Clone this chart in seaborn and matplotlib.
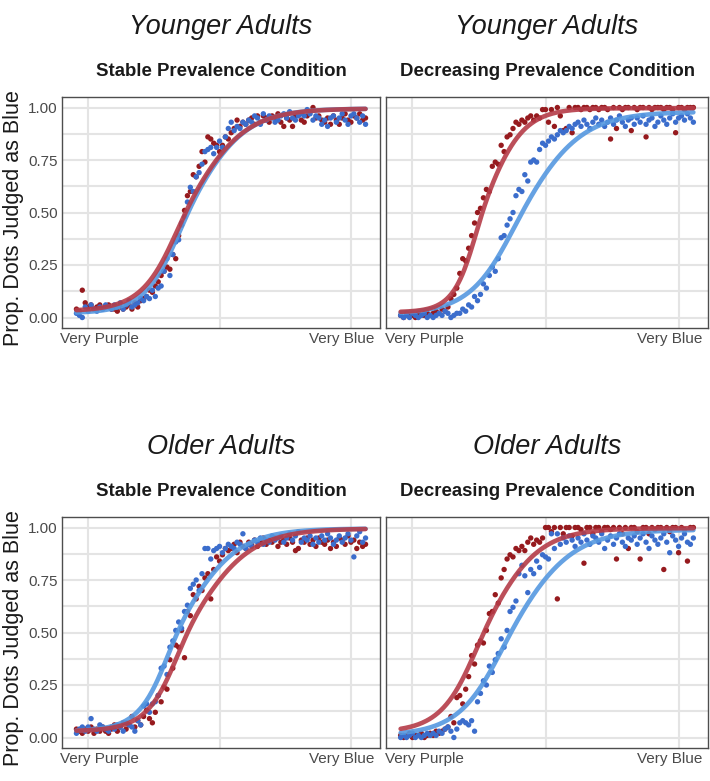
import numpy as np
import pandas as pd
import matplotlib
matplotlib.use("Agg")
import matplotlib.pyplot as plt
import seaborn as sns

# ---------------- data ----------------
stimulus = list(range(1, 101))

ya_stable_red = [0.04, 0.03, 0.13, 0.07, 0.05, 0.06, 0.04, 0.05, 0.06, 0.04,
                 0.05, 0.06, 0.04, 0.04, 0.03, 0.05, 0.04, 0.05, 0.06, 0.04,
                 0.07, 0.05, 0.08, 0.09, 0.10, 0.13, 0.12, 0.15, 0.17, 0.20,
                 0.22, 0.24, 0.23, 0.30, 0.28, 0.39, 0.44, 0.51, 0.58, 0.60,
                 0.68, 0.67, 0.72, 0.79, 0.74, 0.86, 0.85, 0.83, 0.82, 0.79,
                 0.82, 0.86, 0.85, 0.88, 0.90, 0.94, 0.91, 0.93, 0.92, 0.94,
                 0.95, 0.92, 0.96, 0.93, 0.96, 0.95, 0.93, 0.96, 0.95, 0.97,
                 0.93, 0.91, 0.95, 0.94, 0.91, 0.96, 0.97, 0.94, 0.93, 0.96,
                 0.98, 1.00, 0.95, 0.96, 0.94, 0.93, 0.95, 0.92, 0.96, 0.94,
                 0.92, 0.95, 0.97, 0.94, 0.93, 0.96, 0.95, 0.97, 0.94, 0.95]
ya_stable_blue = [0.02, 0.01, 0.00, 0.05, 0.03, 0.06, 0.04, 0.03, 0.05, 0.04,
                  0.06, 0.05, 0.04, 0.06, 0.05, 0.07, 0.04, 0.06, 0.08, 0.05,
                  0.06, 0.07, 0.09, 0.08, 0.10, 0.09, 0.13, 0.10, 0.14, 0.15,
                  0.22, 0.28, 0.20, 0.30, 0.36, 0.37, 0.45, 0.48, 0.55, 0.62,
                  0.60, 0.67, 0.69, 0.73, 0.79, 0.80, 0.81, 0.78, 0.81, 0.84,
                  0.81, 0.86, 0.90, 0.93, 0.89, 0.91, 0.90, 0.93, 0.92, 0.94,
                  0.93, 0.96, 0.95, 0.92, 0.97, 0.94, 0.96, 0.95, 0.93, 0.94,
                  0.96, 0.97, 0.95, 0.98, 0.95, 0.94, 0.96, 0.97, 0.96, 0.99,
                  0.97, 0.94, 0.96, 0.95, 0.92, 0.94, 0.91, 0.95, 0.96, 0.93,
                  0.95, 0.97, 0.94, 0.92, 0.96, 0.97, 0.95, 0.93, 0.96, 0.92]

ya_decr_red = [0.01, 0.00, 0.02, 0.01, 0.01, 0.00, 0.02, 0.01, 0.01, 0.02,
               0.01, 0.02, 0.03, 0.02, 0.04, 0.03, 0.05, 0.09, 0.11, 0.14,
               0.21, 0.28, 0.27, 0.33, 0.39, 0.45, 0.50, 0.52, 0.57, 0.61,
               0.60, 0.72, 0.74, 0.73, 0.82, 0.79, 0.86, 0.87, 0.90, 0.93,
               0.92, 0.94, 0.93, 0.95, 0.96, 0.94, 0.96, 0.95, 0.99, 0.99,
               0.93, 0.99, 0.91, 1.00, 0.96, 0.89, 0.90, 1.00, 0.88, 1.00,
               1.00, 0.99, 1.00, 1.00, 0.99, 1.00, 1.00, 0.99, 1.00, 1.00,
               0.99, 0.85, 1.00, 0.90, 1.00, 0.99, 1.00, 1.00, 0.89, 1.00,
               0.99, 1.00, 1.00, 0.86, 1.00, 0.99, 1.00, 1.00, 1.00, 0.99,
               1.00, 1.00, 0.99, 0.88, 1.00, 1.00, 0.99, 1.00, 1.00, 1.00]
ya_decr_blue = [0.01, 0.00, 0.01, 0.00, 0.02, 0.01, 0.00, 0.01, 0.02, 0.00,
                0.01, 0.00, 0.01, 0.02, 0.01, 0.03, 0.02, 0.00, 0.01, 0.02,
                0.02, 0.04, 0.03, 0.06, 0.05, 0.10, 0.08, 0.11, 0.16, 0.14,
                0.20, 0.24, 0.22, 0.28, 0.38, 0.39, 0.44, 0.47, 0.50, 0.58,
                0.61, 0.60, 0.68, 0.65, 0.74, 0.75, 0.74, 0.80, 0.83, 0.82,
                0.84, 0.86, 0.85, 0.87, 0.89, 0.88, 0.89, 0.91, 0.90, 0.92,
                0.93, 0.91, 0.94, 0.92, 0.90, 0.93, 0.95, 0.92, 0.94, 0.91,
                0.93, 0.95, 0.92, 0.94, 0.96, 0.93, 0.91, 0.94, 0.95, 0.92,
                0.95, 0.93, 0.96, 0.92, 0.94, 0.95, 0.91, 0.93, 0.96, 0.94,
                0.92, 0.95, 0.97, 0.93, 0.95, 0.96, 0.94, 0.97, 0.95, 0.93]

oa_stable_red = [0.04, 0.03, 0.02, 0.04, 0.03, 0.05, 0.02, 0.04, 0.03, 0.05,
                 0.03, 0.02, 0.04, 0.06, 0.03, 0.05, 0.07, 0.04, 0.06, 0.10,
                 0.05, 0.08, 0.06, 0.10, 0.13, 0.09, 0.07, 0.12, 0.20, 0.17,
                 0.24, 0.23, 0.37, 0.33, 0.44, 0.43, 0.51, 0.38, 0.60, 0.58,
                 0.68, 0.66, 0.72, 0.70, 0.76, 0.78, 0.66, 0.80, 0.86, 0.84,
                 0.87, 0.90, 0.89, 0.90, 0.92, 0.88, 0.93, 0.91, 0.90, 0.93,
                 0.92, 0.94, 0.91, 0.93, 0.95, 0.92, 0.94, 0.93, 0.95, 0.91,
                 0.93, 0.94, 0.92, 0.95, 0.93, 0.89, 0.90, 0.94, 0.93, 0.95,
                 0.92, 0.94, 0.91, 0.95, 0.93, 0.92, 0.94, 0.90, 0.93, 0.91,
                 0.95, 0.94, 0.92, 0.96, 0.93, 0.94, 0.90, 0.93, 0.91, 0.92]
oa_stable_blue = [0.02, 0.04, 0.05, 0.03, 0.05, 0.09, 0.04, 0.03, 0.06, 0.05,
                  0.04, 0.03, 0.05, 0.04, 0.06, 0.05, 0.03, 0.07, 0.06, 0.05,
                  0.03, 0.08, 0.06, 0.15, 0.16, 0.12, 0.16, 0.17, 0.20, 0.33,
                  0.34, 0.30, 0.43, 0.46, 0.51, 0.55, 0.52, 0.60, 0.63, 0.71,
                  0.73, 0.75, 0.70, 0.78, 0.90, 0.90, 0.85, 0.89, 0.90, 0.91,
                  0.88, 0.90, 0.92, 0.91, 0.90, 0.93, 0.92, 0.97, 0.90, 0.92,
                  0.91, 0.94, 0.93, 0.95, 0.92, 0.94, 0.93, 0.96, 0.94, 0.95,
                  0.96, 0.93, 0.95, 0.97, 0.94, 0.96, 0.98, 0.93, 0.95, 0.94,
                  0.96, 0.92, 0.95, 0.93, 0.96, 0.94, 0.97, 0.95, 0.92, 0.94,
                  0.96, 0.93, 0.95, 0.97, 0.94, 0.86, 0.96, 0.98, 0.93, 0.95]

oa_decr_red = [0.01, 0.00, 0.01, 0.02, 0.00, 0.01, 0.01, 0.02, 0.00, 0.01,
               0.02, 0.01, 0.03, 0.02, 0.03, 0.04, 0.05, 0.10, 0.07, 0.19,
               0.20, 0.16, 0.23, 0.29, 0.39, 0.35, 0.44, 0.46, 0.45, 0.51,
               0.59, 0.60, 0.68, 0.64, 0.76, 0.80, 0.85, 0.87, 0.86, 0.90,
               0.89, 0.91, 0.89, 0.93, 0.95, 0.92, 0.94, 0.93, 0.95, 1.00,
               1.00, 0.98, 1.00, 0.66, 1.00, 0.97, 1.00, 1.00, 0.96, 1.00,
               1.00, 0.99, 0.83, 1.00, 1.00, 0.97, 1.00, 1.00, 0.98, 1.00,
               1.00, 0.99, 1.00, 0.85, 1.00, 0.97, 1.00, 0.90, 1.00, 1.00,
               0.98, 0.85, 1.00, 1.00, 0.97, 1.00, 0.99, 1.00, 1.00, 0.80,
               1.00, 0.98, 1.00, 1.00, 0.88, 1.00, 0.99, 0.84, 1.00, 1.00]
oa_decr_blue = [0.00, 0.01, 0.00, 0.01, 0.02, 0.00, 0.01, 0.00, 0.01, 0.02,
                0.01, 0.02, 0.01, 0.03, 0.02, 0.04, 0.05, 0.03, 0.00, 0.04,
                0.07, 0.08, 0.07, 0.06, 0.08, 0.03, 0.17, 0.21, 0.27, 0.25,
                0.34, 0.31, 0.37, 0.40, 0.47, 0.43, 0.51, 0.60, 0.62, 0.65,
                0.78, 0.82, 0.77, 0.69, 0.80, 0.78, 0.84, 0.81, 0.87, 0.86,
                0.85, 0.97, 0.90, 0.97, 0.92, 0.95, 0.93, 0.96, 0.94, 0.91,
                0.95, 0.93, 0.97, 0.94, 0.92, 0.96, 0.95, 0.93, 0.97, 0.90,
                0.94, 0.96, 0.92, 0.95, 0.97, 0.93, 0.91, 0.95, 0.94, 0.96,
                0.92, 0.95, 0.97, 0.93, 0.90, 0.96, 0.94, 0.92, 0.95, 0.97,
                0.93, 0.88, 0.96, 0.94, 0.91, 0.95, 0.97, 0.93, 0.92, 0.95]

# fitted psychometric curves:
# (lower asymptote, upper asymptote, midpoint, lower-side scale, upper-side scale)
fit_ya_stable_red = [0.030, 0.995, 38.8, 7.2, 9.6]
fit_ya_stable_blue = [0.020, 0.995, 39.5, 7.0, 9.3]
fit_ya_decr_red = [0.025, 0.997, 28.9, 4.6, 6.5]
fit_ya_decr_blue = [0.015, 0.980, 42.0, 8.5, 10.0]
fit_oa_stable_red = [0.030, 0.995, 39.5, 6.5, 10.0]
fit_oa_stable_blue = [0.030, 0.995, 36.0, 6.2, 9.5]
fit_oa_decr_red = [0.025, 0.997, 29.5, 7.0, 8.8]
fit_oa_decr_blue = [0.010, 0.990, 38.3, 8.5, 10.2]

group_titles = ["Younger Adults", "Younger Adults", "Older Adults", "Older Adults"]
condition_titles = ["Stable Prevalence Condition", "Decreasing Prevalence Condition",
                    "Stable Prevalence Condition", "Decreasing Prevalence Condition"]
x_tick_labels = ["Very Purple", "Very Blue"]
y_ticks = [0.0, 0.25, 0.5, 0.75, 1.0]
y_tick_labels = ["0.00", "0.25", "0.50", "0.75", "1.00"]
y_label = "Prop. Dots Judged as Blue"

panels = [
    (ya_stable_red, ya_stable_blue, fit_ya_stable_red, fit_ya_stable_blue),
    (ya_decr_red, ya_decr_blue, fit_ya_decr_red, fit_ya_decr_blue),
    (oa_stable_red, oa_stable_blue, fit_oa_stable_red, fit_oa_stable_blue),
    (oa_decr_red, oa_decr_blue, fit_oa_decr_red, fit_oa_decr_blue),
]

# ---------------- style ----------------
sns.set_theme(style="white")
plt.rcParams["font.family"] = ["Liberation Sans", "DejaVu Sans"]

RED_PT = "#961a1e"
BLUE_PT = "#3b6dcc"
RED_LN = "#b53c48"
BLUE_LN = "#5598e0"
GRID = "#e4e4e4"

fig = plt.figure(figsize=(7.10, 7.81), dpi=100)
W, H = 710, 781
boxes = [(62, 97, 380, 328), (386, 97, 708, 328), (62, 517, 380, 748), (386, 517, 708, 748)]


def curve(p, xs):
    lo, hi, m, s_lo, s_hi = p
    w = 0.5 * (s_lo + s_hi)
    s = s_lo + (s_hi - s_lo) * 0.5 * (1.0 + np.tanh((xs - m) / w))
    return lo + (hi - lo) / (1.0 + np.exp(-(xs - m) / s))


xs_fine = np.linspace(1, 100, 300)

for k, (box, (red, blue, fr, fb)) in enumerate(zip(boxes, panels)):
    l, t, r, b = box
    ax = fig.add_axes([l / W, 1 - b / H, (r - l) / W, (b - t) / H])
    pts = pd.DataFrame({
        "x": stimulus * 2,
        "y": red + blue,
        "series": ["red"] * len(red) + ["blue"] * len(blue),
    })
    crv = pd.DataFrame({
        "x": np.concatenate([xs_fine, xs_fine]),
        "y": np.concatenate([curve(fb, xs_fine), curve(fr, xs_fine)]),
        "series": ["blue"] * len(xs_fine) + ["red"] * len(xs_fine),
    })
    sns.scatterplot(data=pts, x="x", y="y", hue="series",
                    palette={"red": RED_PT, "blue": BLUE_PT},
                    s=15, linewidth=0, legend=False, ax=ax, zorder=3)
    sns.lineplot(data=crv, x="x", y="y", hue="series",
                 palette={"blue": BLUE_LN, "red": RED_LN},
                 hue_order=["blue", "red"], linewidth=3.3, alpha=0.9,
                 legend=False, ax=ax, zorder=4)

    ax.set_xlim(1 - 0.05 * 99, 100 + 0.05 * 99)
    ax.set_ylim(-0.05, 1.05)
    ax.set_xticks([9, 92])
    ax.set_xticklabels(x_tick_labels)
    ax.set_xticks([5, 50, 95], minor=True)
    ax.set_yticks(y_ticks)
    ax.set_yticks([0.125, 0.375, 0.625, 0.875], minor=True)
    if k % 2 == 0:
        ax.set_yticklabels(y_tick_labels)
    else:
        ax.set_yticklabels([])
    ax.tick_params(axis="both", which="both", length=0, labelsize=11,
                   labelcolor="#4a4a4a", pad=3)
    ax.grid(False)
    ax.grid(True, axis="y", which="both", color=GRID, linewidth=1.5)
    ax.grid(True, axis="x", which="minor", color=GRID, linewidth=1.5)
    ax.set_axisbelow(True)
    ax.set_xlabel("")
    ax.set_ylabel("")
    for sp in ax.spines.values():
        sp.set_visible(True)
        sp.set_color("#4d4d4d")
        sp.set_linewidth(1.0)

    cx = (l + r) / 2 / W
    fig.text(cx, 1 - (t - 70) / H, group_titles[k], ha="center", va="center",
             fontsize=19.5, style="italic", color="#1a1a1a")
    fig.text(cx, 1 - (t - 25) / H, condition_titles[k], ha="center", va="center",
             fontsize=13.4, fontweight="bold", color="#1a1a1a")

for t, b in [(97, 328), (517, 748)]:
    fig.text(14 / W, 1 - ((t + b) / 2 + 6) / H, y_label, rotation=90,
             ha="center", va="center", fontsize=15.5, color="#1a1a1a")

fig.savefig("out.png", dpi=100)
